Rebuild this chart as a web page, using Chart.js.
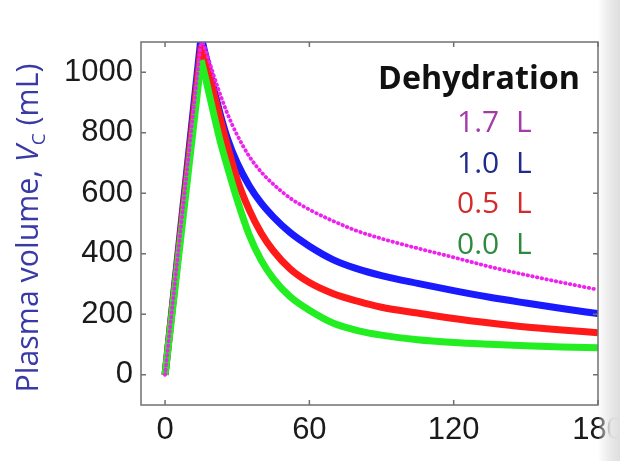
<!DOCTYPE html>
<html>
<head>
<meta charset="utf-8">
<script src="https://cdn.jsdelivr.net/npm/chart.js@4.4.1/dist/chart.umd.min.js"></script>
<style>
  html, body { margin: 0; padding: 0; background: #fff; }
  #wrap { position: relative; width: 620px; height: 461px; overflow: hidden; }
  #shade {
    position: absolute; top: 0; left: 599px; width: 21px; height: 461px; pointer-events: none;
    background: linear-gradient(to right, rgba(240,240,240,0.2), rgba(232,232,232,0.95) 55%, #dedede);
  }
</style>
</head>
<body>
<div id="wrap">
  <canvas id="chart" width="620" height="461"></canvas>
  <div id="shade"></div>
</div>
<script>
// time after start of infusion (min); infusion ends at index 1 (15 min)
const times = [0, 15, 17, 20, 23, 26, 30, 35, 40, 45, 52, 60, 70, 80, 90, 105, 120, 135, 150, 165, 180];

// plasma volume (mL) for each dehydration level
const vol17 = [0, 1110, 1070, 995, 925, 862, 792, 722, 670, 630, 584, 546, 508, 475, 450, 418, 388, 357, 330, 305, 281];
const vol10 = [0, 1120, 1050, 955, 860, 780, 700, 625, 567, 522, 470, 425, 380, 350, 328, 302, 278, 256, 237, 219, 202];
const vol05 = [0, 1085, 1035, 940, 845, 755, 645, 545, 468, 410, 350, 305, 268, 243, 223, 204, 186, 171, 158, 148, 139];
const vol00 = [0, 1040, 975, 870, 770, 685, 578, 462, 378, 318, 258, 213, 170, 146, 131, 116, 107, 101, 96, 92, 89];

const seriesNames = ['1.7', '1.0', '0.5', '0.0'];
const xTicks = [0, 60, 120, 180];
const yTicks = [0, 200, 400, 600, 800, 1000];

const lineColors = ['#ee22ee', '#1a1aff', '#ff1a1a', '#22ee22'];
const textColors = ['#a33ca8', '#1f2a8f', '#d42a2a', '#2e8b3e'];
const tickFont = { family: '"Liberation Sans", Arial, sans-serif', size: 31 };

const toPoints = (vals, from, to) => times.slice(from, to).map((t, i) => ({ x: t, y: vals[from + i] }));

// each curve = straight infusion ramp + smooth decay; listed top-most first
const curves = [
  { vals: vol17, color: lineColors[0], width: 3.8, dash: [0.5, 4.3] },
  { vals: vol00, color: lineColors[3], width: 7 },
  { vals: vol05, color: lineColors[2], width: 7 },
  { vals: vol10, color: lineColors[1], width: 7 }
];

const datasets = curves.flatMap(c => {
  const style = { borderColor: c.color, borderWidth: c.width, borderDash: c.dash || [],
    borderCapStyle: c.dash ? 'round' : 'butt', clip: 0 };
  return [
    { data: toPoints(c.vals, 0, 2), tension: 0, ...style },
    { data: toPoints(c.vals, 1), cubicInterpolationMode: 'monotone', ...style }
  ];
});

const overlayPlugin = {
  id: 'overlay',
  afterDatasetsDraw(chart) {
    const { ctx, chartArea: a, scales: { x, y } } = chart;
    ctx.save();
    ctx.strokeStyle = '#707070';
    ctx.lineWidth = 1.5;
    ctx.strokeRect(a.left, a.top, a.right - a.left, a.bottom - a.top);
    ctx.beginPath();
    xTicks.forEach(v => {
      const px = x.getPixelForValue(v);
      ctx.moveTo(px, a.bottom); ctx.lineTo(px, a.bottom - 5);
      ctx.moveTo(px, a.top); ctx.lineTo(px, a.top + 5);
    });
    yTicks.forEach(v => {
      const py = y.getPixelForValue(v);
      ctx.moveTo(a.left, py); ctx.lineTo(a.left + 5, py);
      ctx.moveTo(a.right, py); ctx.lineTo(a.right - 5, py);
    });
    ctx.stroke();
    ctx.restore();
  },
  afterDraw(chart) {
    const ctx = chart.ctx;
    ctx.save();

    // y axis title with italic V and subscript C
    const fam = '"Open Sans", sans-serif';
    let s = 24;
    const parts = size => [
      { t: 'Plasma volume, ', f: `${size}px ${fam}`, dy: 0 },
      { t: 'V', f: `italic ${size}px ${fam}`, dy: 0 },
      { t: 'C', f: `${Math.round(size * 0.62)}px ${fam}`, dy: size * 0.22 },
      { t: ' (mL)', f: `${size}px ${fam}`, dy: 0 }
    ];
    const widthOf = ps => ps.reduce((w, p) => { ctx.font = p.f; return w + ctx.measureText(p.t).width; }, 0);
    s = s * 329 / widthOf(parts(s));
    const ps = parts(s);
    ctx.translate(38, 228);
    ctx.rotate(-Math.PI / 2);
    ctx.fillStyle = '#3a3aa6';
    ctx.textBaseline = 'alphabetic';
    let cx = -widthOf(ps) / 2;
    ps.forEach(p => {
      ctx.font = p.f;
      ctx.fillText(p.t, cx, p.dy);
      cx += ctx.measureText(p.t).width;
    });
    ctx.restore();

    // legend block
    ctx.save();
    ctx.textBaseline = 'alphabetic';
    ctx.fillStyle = '#111';
    let hs = 32;
    ctx.font = `bold ${hs}px ${fam}`;
    hs = hs * 202 / ctx.measureText('Dehydration').width;
    ctx.font = `bold ${hs}px ${fam}`;
    ctx.textAlign = 'center';
    ctx.fillText('Dehydration', 479, 89);
    ctx.textAlign = 'left';
    ctx.font = `30px ${fam}`;
    seriesNames.forEach((name, i) => {
      const by = 132 + i * 40.5;
      ctx.fillStyle = textColors[i];
      ctx.fillText(name, 457, by);
      ctx.fillText('L', 516, by);
    });
    ctx.restore();
  }
};

new Chart(document.getElementById('chart'), {
  type: 'line',
  data: { datasets },
  options: {
    responsive: false,
    animation: false,
    events: [],
    layout: { padding: { top: 42, right: 22, left: 0, bottom: 0 } },
    elements: {
      point: { radius: 0 },
      line: { borderJoinStyle: 'round', fill: false }
    },
    plugins: { legend: { display: false }, tooltip: { enabled: false } },
    scales: {
      x: {
        type: 'linear', min: -10, max: 180,
        afterBuildTicks: sc => { sc.ticks = xTicks.map(v => ({ value: v })); },
        afterFit: sc => { sc.height = 56; sc.paddingLeft = 0; sc.paddingRight = 0; },
        grid: { display: false, drawTicks: false },
        border: { display: false },
        ticks: { color: '#1a1a1a', padding: 7, maxRotation: 0, autoSkip: false, font: tickFont,
          callback: v => String(v) }
      },
      y: {
        type: 'linear', min: -100, max: 1100,
        afterBuildTicks: sc => { sc.ticks = yTicks.map(v => ({ value: v })); },
        afterFit: sc => { sc.width = 141; },
        grid: { display: false, drawTicks: false },
        border: { display: false },
        ticks: { color: '#1a1a1a', padding: 8, autoSkip: false, font: tickFont,
          callback: v => String(v) }
      }
    }
  },
  plugins: [overlayPlugin]
});
</script>
</body>
</html>
